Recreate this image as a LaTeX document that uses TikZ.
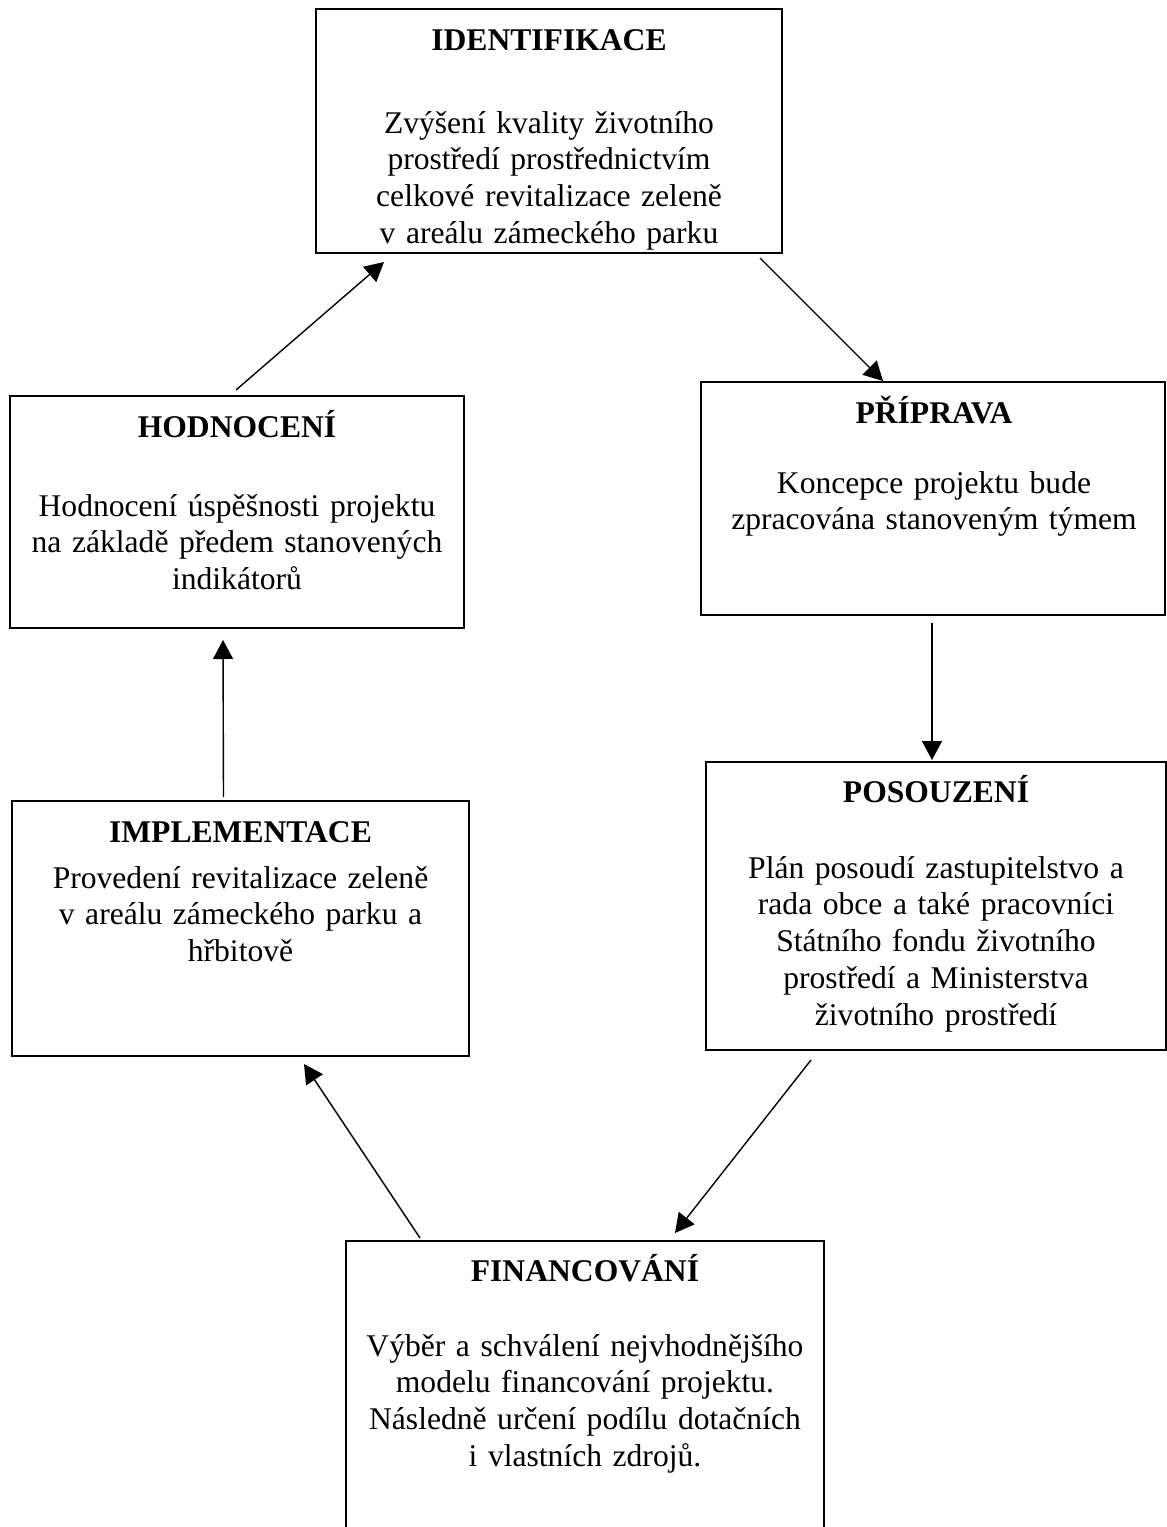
\documentclass[tikz,border=0pt]{standalone}
\usepackage{fontspec}
\setmainfont{Liberation Serif}
\usetikzlibrary{arrows.meta}

\tikzset{
  stagebox/.style={draw, line width=2pt, inner sep=0pt},
  stagetitle/.style={anchor=base, inner sep=0pt, font=\bfseries\fontsize{31.6}{36.8}\selectfont},
  stagetext/.style={anchor=base, inner sep=0pt, align=center, text width=#1,
    font=\fontsize{31.6}{36.8}\selectfont},
  flow/.style={line width=1.4pt, -{Triangle[length=19pt,width=20pt]}}
}

\begin{document}
\begin{tikzpicture}[x=1pt, y=-1pt]
    \useasboundingbox (0,0) rectangle (1167,1527);
    \clip (0,0) rectangle (1167,1527);

    % frames
    \node[stagebox, minimum width=466, minimum height=244] (ident) at (549,131) {};
    \node[stagebox, minimum width=454, minimum height=232] (hodn) at (237,512) {};
    \node[stagebox, minimum width=464, minimum height=233] (prip) at (933,498.5) {};
    \node[stagebox, minimum width=460, minimum height=288] (posou) at (936,906) {};
    \node[stagebox, minimum width=457, minimum height=255] (impl) at (240.5,928.5) {};
    \node[stagebox, minimum width=478, minimum height=299] (finan) at (585,1390.5) {};

    % texts
    \node[stagetitle] (ident-t) at (549,50) {IDENTIFIKACE};
    \node[stagetext=450] (ident-b) at (549,133) {Zvýšení kvality životního\\
      prostředí prostřednictvím\\ celkové revitalizace zeleně\\ v areálu zámeckého parku};

    \node[stagetitle] (hodn-t) at (237,437) {HODNOCENÍ};
    \node[stagetext=440] (hodn-b) at (237,516) {Hodnocení úspěšnosti projektu\\
      na základě předem stanovených\\ indikátorů};

    \node[stagetitle] (prip-t) at (934,423) {PŘÍPRAVA};
    \node[stagetext=450] (prip-b) at (934,493) {Koncepce projektu bude\\
      zpracována stanoveným týmem};

    \node[stagetitle] (posou-t) at (936,802) {POSOUZENÍ};
    \node[stagetext=445] (posou-b) at (936,878) {Plán posoudí zastupitelstvo a\\
      rada obce a také pracovníci\\ Státního fondu životního\\
      prostředí a Ministerstva\\ životního prostředí};

    \node[stagetitle] (impl-t) at (240.5,842) {IMPLEMENTACE};
    \node[stagetext=445] (impl-b) at (240.5,888) {Provedení revitalizace zeleně\\
      v areálu zámeckého parku a\\ hřbitově};

    \node[stagetitle] (finan-t) at (585,1281) {FINANCOVÁNÍ};
    \node[stagetext=465] (finan-b) at (585,1356) {Výběr a schválení nejvhodnějšího\\
      modelu financování projektu.\\ Následně určení podílu dotačních\\
      i vlastních zdrojů.};

    % cycle
    \draw[flow] ([xshift=-1pt,yshift=5pt]hodn.north) -- ([xshift=69pt,yshift=-8pt]ident.south west);
    \draw[flow] ([xshift=-23pt,yshift=-4pt]ident.south east) -- ([xshift=-50pt]prip.north);
    \draw[flow] ([xshift=-1pt,yshift=-7pt]prip.south) -- ([xshift=-4pt,yshift=1pt]posou.north);
    \draw[flow] ([xshift=106pt,yshift=-9pt]posou.south west) -- ([xshift=-150pt,yshift=7pt]finan.north east);
    \draw[flow] ([xshift=75pt,yshift=2pt]finan.north west) -- ([xshift=-166pt,yshift=-7pt]impl.south east);
    \draw[flow] ([xshift=-17pt,yshift=3pt]impl.north) -- ([xshift=-14pt,yshift=-11pt]hodn.south);
\end{tikzpicture}
\end{document}
